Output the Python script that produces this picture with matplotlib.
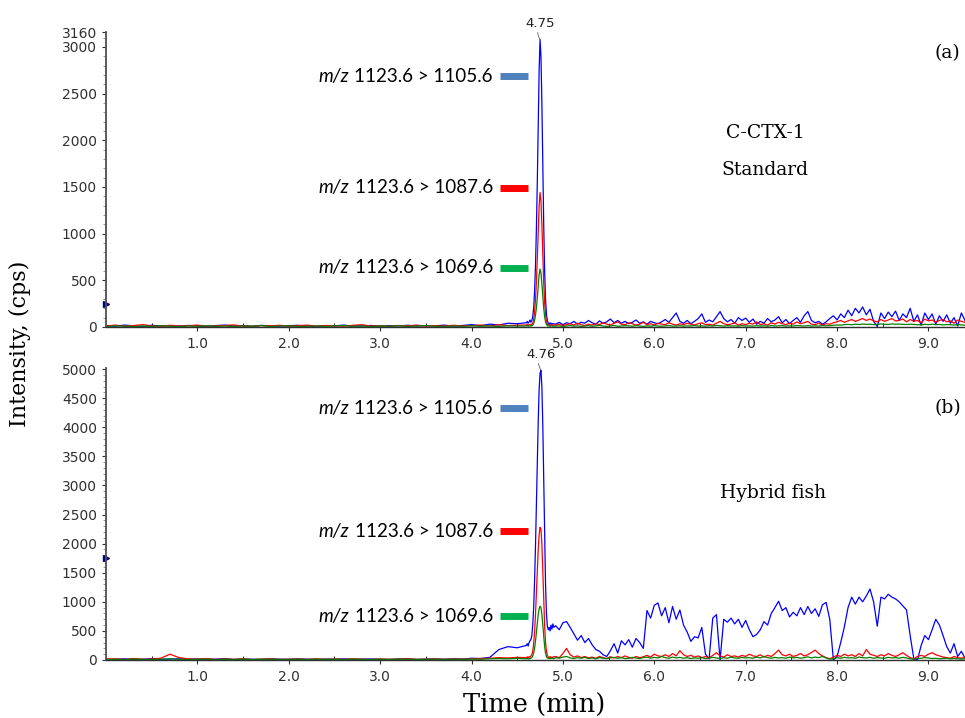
import numpy as np
import matplotlib
matplotlib.use("Agg")
import matplotlib.pyplot as plt
from matplotlib.ticker import MultipleLocator, FixedLocator

# --- sampling grid (min) ---
t_seg1 = np.round(np.arange(0.0, 4.55, 0.1), 2)     # 0.0 .. 4.5
t_seg2 = np.round(np.arange(4.60, 4.905, 0.01), 2)  # 4.60 .. 4.90
t_seg3 = np.round(np.arange(4.92, 9.405, 0.04), 2)  # 4.92 .. 9.40

# --- panel (a): C-CTX-1 standard ---
a_blue_1 = [15, 8, 20, 12, 6, 18, 10, 14, 9, 16,
            11, 7, 15, 20, 10, 13, 8, 17, 12, 9,
            14, 18, 10, 6, 15, 12, 20, 9, 13, 16,
            8, 14, 11, 18, 10, 15, 12, 20, 9, 16,
            25, 14, 30, 22, 40, 35]
a_red_1 = [10, 20, 8, 15, 25, 12, 6, 18, 10, 14,
           20, 8, 12, 16, 22, 10, 6, 15, 12, 18,
           8, 14, 20, 10, 16, 12, 8, 18, 24, 10,
           14, 6, 16, 12, 20, 8, 15, 10, 18, 12,
           14, 20, 10, 25, 15, 20]
a_green_1 = [5, 12, 8, 4, 10, 6, 14, 8, 5, 10,
             7, 12, 6, 9, 5, 11, 8, 14, 6, 10,
             12, 5, 8, 10, 6, 12, 15, 7, 9, 5,
             10, 8, 12, 6, 10, 14, 8, 5, 10, 7,
             12, 8, 10, 6, 12, 10]

a_blue_2 = [45, 60, 40, 55, 75, 50, 70, 110, 200, 380,
            650, 1050, 1550, 2150, 2750, 3080, 2900, 2400, 1750, 1100,
            600, 300, 140, 70, 40, 30, 45, 25, 40, 30, 35]
a_red_2 = [20, 30, 15, 25, 20, 30, 25, 40, 80, 160,
           290, 480, 730, 1020, 1300, 1440, 1350, 1100, 780, 480,
           260, 130, 60, 30, 20, 25, 15, 20, 30, 15, 20]
a_green_2 = [10, 15, 8, 12, 10, 15, 12, 20, 35, 70,
             125, 205, 310, 430, 560, 620, 580, 470, 330, 200,
             110, 55, 28, 15, 10, 12, 8, 10, 12, 8, 10]

a_blue_3 = [30, 50, 25, 45, 35, 60, 30, 50, 40, 70,
            45, 30, 65, 40, 55, 85, 45, 70, 40, 60,
            35, 50, 75, 40, 55, 30, 60, 45, 35, 55,
            80, 50, 100, 150, 60, 40, 70, 35, 60, 90,
            140, 50, 75, 55, 110, 165, 90, 55, 80, 40,
            100, 70, 95, 50, 85, 30, 60, 40, 90, 55,
            75, 110, 45, 80, 35, 70, 100, 50, 120, 165,
            70, 45, 60, 30, 55, 90, 120, 75, 140, 100,
            180, 120, 200, 150, 215, 130, 190, 60, 5, 150,
            90, 160, 110, 170, 70, 140, 100, 200, 60, 130,
            20, 150, 80, 140, 30, 120, 60, 130, 40, 100,
            10, 150, 70]
a_red_3 = [20, 30, 15, 25, 35, 20, 40, 25, 15, 30,
           20, 35, 25, 45, 30, 20, 40, 55, 30, 25,
           45, 35, 20, 30, 50, 25, 35, 20, 40, 30,
           25, 45, 30, 20, 35, 25, 40, 30, 20, 35,
           45, 25, 30, 20, 40, 60, 35, 25, 30, 45,
           20, 35, 25, 40, 30, 55, 25, 35, 20, 45,
           30, 50, 35, 25, 40, 30, 55, 35, 45, 60,
           30, 25, 40, 20, 35, 30, 45, 55, 70, 50,
           65, 80, 60, 75, 90, 70, 85, 65, 55, 80,
           60, 75, 90, 65, 70, 85, 55, 80, 60, 70,
           45, 85, 65, 75, 50, 70, 80, 55, 65, 40,
           75, 60, 50]
a_green_3 = [8, 12, 5, 10, 15, 8, 12, 6, 10, 14,
             8, 12, 18, 10, 6, 12, 15, 8, 10, 14,
             12, 8, 15, 10, 6, 12, 9, 14, 10, 8,
             12, 15, 9, 10, 14, 8, 12, 10, 15, 9,
             12, 8, 14, 10, 16, 12, 9, 14, 10, 12,
             8, 15, 10, 12, 9, 14, 10, 12, 8, 15,
             10, 12, 14, 9, 12, 10, 15, 12, 10, 14,
             9, 12, 10, 15, 12, 14, 18, 22, 20, 25,
             28, 24, 30, 26, 32, 28, 30, 25, 28, 32,
             30, 27, 33, 29, 31, 28, 26, 30, 27, 25,
             22, 28, 25, 30, 24, 27, 22, 26, 24, 20,
             25, 22, 20]

# --- panel (b): hybrid fish ---
b_blue_1 = [15, 10, 20, 8, 12, 25, 10, 15, 20, 12,
            18, 10, 14, 22, 8, 15, 12, 10, 18, 14,
            10, 20, 12, 8, 16, 12, 20, 10, 14, 18,
            12, 8, 15, 20, 10, 14, 18, 12, 20, 15,
            30, 25, 45, 180, 230, 210]
b_red_1 = [15, 20, 10, 25, 12, 18, 30, 100, 40, 20,
           15, 25, 10, 18, 12, 20, 8, 15, 22, 10,
           14, 18, 12, 20, 10, 16, 12, 20, 15, 10,
           18, 12, 16, 22, 10, 14, 20, 12, 18, 15,
           20, 25, 30, 40, 35, 45]
b_green_1 = [8, 12, 6, 15, 10, 8, 14, 20, 12, 8,
             10, 14, 6, 12, 9, 15, 8, 11, 14, 7,
             10, 12, 8, 15, 9, 12, 7, 14, 10, 8,
             12, 9, 15, 10, 8, 12, 14, 9, 12, 10,
             15, 12, 20, 25, 20, 30]

b_blue_2 = [250, 280, 240, 300, 330, 350, 420, 600, 900, 1350,
            1950, 2650, 3400, 4100, 4650, 4930, 4980, 4700, 4050, 3100,
            2100, 1300, 800, 580, 520, 560, 500, 600, 530, 620, 560]
b_red_2 = [40, 55, 30, 60, 45, 70, 90, 150, 280, 480,
           780, 1150, 1550, 1900, 2150, 2280, 2250, 2000, 1550, 1050,
           600, 300, 150, 80, 50, 40, 60, 35, 50, 40, 55]
b_green_2 = [20, 30, 15, 25, 20, 35, 40, 70, 120, 200,
             320, 470, 630, 780, 880, 925, 900, 790, 600, 400,
             230, 120, 60, 35, 25, 30, 20, 35, 25, 30, 20]

b_blue_3 = [590, 520, 640, 660, 560, 450, 340, 420, 300, 370,
            260, 180, 150, 90, 60, 160, 280, 120, 330, 260,
            350, 220, 370, 300, 200, 850, 720, 940, 980, 760,
            900, 640, 920, 700, 860, 600, 480, 320, 400, 380,
            560, 100, 20, 720, 780, 0, 700, 650, 720, 620,
            700, 560, 680, 520, 400, 440, 520, 660, 600, 800,
            900, 1010, 850, 900, 740, 820, 760, 900, 780, 920,
            800, 880, 750, 950, 990, 700, 0, 60, 300, 570,
            900, 1080, 960, 1080, 1000, 1100, 1220, 1000, 580, 1080,
            1050, 1130, 1080, 1050, 1000, 930, 860, 420, 20, 0,
            250, 420, 350, 520, 700, 600, 420, 230, 120, 280,
            60, 150, 30]
b_red_3 = [60, 40, 110, 200, 90, 50, 70, 40, 60, 35,
           50, 30, 60, 40, 25, 55, 35, 60, 40, 70,
           45, 30, 60, 40, 55, 80, 50, 100, 70, 60,
           90, 60, 110, 70, 160, 90, 60, 80, 50, 70,
           40, 60, 35, 80, 125, 70, 50, 90, 60, 70,
           50, 80, 60, 100, 70, 60, 90, 50, 80, 60,
           110, 170, 90, 70, 100, 60, 80, 110, 70, 90,
           130, 170, 110, 70, 40, 20, 50, 80, 60, 100,
           70, 90, 60, 110, 70, 180, 100, 80, 60, 90,
           70, 110, 80, 60, 90, 125, 80, 40, 20, 60,
           80, 60, 100, 125, 90, 70, 50, 40, 30, 60,
           40, 30, 50]
b_green_3 = [40, 30, 50, 60, 35, 25, 40, 30, 45, 25,
             35, 20, 40, 30, 25, 35, 45, 30, 40, 25,
             30, 45, 35, 25, 40, 50, 30, 45, 35, 60,
             40, 30, 50, 35, 45, 30, 40, 25, 35, 30,
             40, 25, 30, 45, 35, 25, 40, 30, 50, 35,
             30, 45, 35, 40, 30, 50, 35, 60, 40, 30,
             45, 35, 40, 30, 50, 35, 45, 30, 40, 55,
             35, 50, 40, 60, 35, 15, 20, 40, 30, 45,
             35, 40, 30, 50, 40, 35, 45, 30, 40, 35,
             30, 45, 35, 40, 30, 45, 35, 20, 15, 25,
             30, 40, 35, 25, 30, 20, 25, 30, 20, 25,
             20, 15, 20]

transitions = ["1123.6 > 1105.6", "1123.6 > 1087.6", "1123.6 > 1069.6"]
x_ticks = [1, 2, 3, 4, 5, 6, 7, 8, 9]
x_tick_labels = ["1.0", "2.0", "3.0", "4.0", "5.0", "6.0", "7.0", "8.0", "9.0"]

time = np.concatenate([t_seg1, t_seg2, t_seg3])


def serie(s1, s2, s3):
    return np.concatenate([s1, s2, s3]).astype(float)


paneles = [
    {
        "pos": [0.1098, 0.5446, 0.8902, 0.4108],
        "ymax": 3160,
        "yticks": [0, 500, 1000, 1500, 2000, 2500, 3000, 3160],
        "blue": serie(a_blue_1, a_blue_2, a_blue_3),
        "red": serie(a_red_1, a_red_2, a_red_3),
        "green": serie(a_green_1, a_green_2, a_green_3),
        "apex": 4.75,
        "bars_y": [2688, 1489, 632],
        "marker_y": 250,
        "tag": "(a)", "tag_y": 0.926,
        "names": [("C-CTX-1", 0.793, 0.815), ("Standard", 0.793, 0.763)],
    },
    {
        "pos": [0.1098, 0.0808, 0.8902, 0.4067],
        "ymax": 5020,
        "yticks": [0, 500, 1000, 1500, 2000, 2500, 3000, 3500, 4000, 4500, 5000],
        "blue": serie(b_blue_1, b_blue_2, b_blue_3),
        "red": serie(b_red_1, b_red_2, b_red_3),
        "green": serie(b_green_1, b_green_2, b_green_3),
        "apex": 4.76,
        "bars_y": [4330, 2216, 756],
        "marker_y": 1750,
        "tag": "(b)", "tag_y": 0.432,
        "names": [("Hybrid fish", 0.801, 0.313)],
    },
]

bar_colors = ["#4F81BD", "#FF0000", "#00B050"]
serif = "DejaVu Serif"

fig = plt.figure(figsize=(9.65, 7.18), dpi=100)

for p in paneles:
    ax = fig.add_axes(p["pos"])
    ax.plot(time, p["blue"], color="#0000FF", lw=0.9)
    ax.plot(time, p["red"], color="#FF0000", lw=0.9)
    ax.plot(time, p["green"], color="#008000", lw=0.9)

    ax.set_xlim(0, 9.4)
    ax.set_ylim(0, p["ymax"])
    for s in ["top", "right"]:
        ax.spines[s].set_visible(False)
    ax.spines["left"].set_color("#505050")
    ax.spines["left"].set_linewidth(1.3)
    ax.spines["bottom"].set_color("#303030")
    ax.spines["bottom"].set_linewidth(1.0)

    ax.yaxis.set_major_locator(FixedLocator(p["yticks"]))
    ax.yaxis.set_minor_locator(MultipleLocator(100))
    ax.set_xticks(x_ticks)
    ax.set_xticklabels(x_tick_labels)
    ax.xaxis.set_minor_locator(FixedLocator([0.5 + i for i in range(10)]))
    ax.tick_params(axis="both", which="major", labelsize=10, colors="#303030",
                   length=3, width=0.8)
    ax.tick_params(axis="y", which="minor", length=2, width=0.6, color="#808080")
    ax.tick_params(axis="x", which="minor", length=3, width=0.6, direction="in")
    ax.tick_params(axis="x", which="major", pad=4)

    # marcador del nivel de ruido en el eje
    ax.plot([0], [p["marker_y"]], marker=">", color="#000080", ms=4, clip_on=False)

    # etiqueta del tiempo de retencion
    apex_i = int(np.argmax(p["blue"]))
    ax.annotate(f"{p['apex']:.2f}", xy=(time[apex_i], p["blue"][apex_i]),
                xytext=(0, 7), textcoords="offset points", ha="center", va="bottom",
                fontsize=9.5, color="#202020", annotation_clip=False,
                arrowprops=dict(arrowstyle="-", color="#606060", lw=0.6,
                                connectionstyle="arc3,rad=0.3", shrinkA=0, shrinkB=0))

    # leyenda de transiciones
    for label, y, c in zip(transitions, p["bars_y"], bar_colors):
        ax.plot([4.31, 4.62], [y, y], color=c, lw=5, solid_capstyle="butt")
        t = ax.text(4.235, y, label, ha="right", va="center", fontsize=13.5,
                    family="Lato", color="black")
        ax.annotate("m/z", xy=(0, 0), xycoords=t, xytext=(-4, 0),
                    textcoords="offset points", ha="right", va="bottom",
                    fontsize=13.5, family="Lato", style="italic", color="black")

    fig.text(0.982, p["tag_y"], p["tag"], ha="center", va="center",
             fontsize=13.5, family=serif)
    for name, x, y in p["names"]:
        fig.text(x, y, name, ha="center", va="center", fontsize=13.5, family=serif)

fig.text(0.021, 0.521, "Intensity, (cps)", rotation=90, ha="center", va="center",
         fontsize=16, family=serif)
fig.text(0.554, 0.018, "Time (min)", ha="center", va="center",
         fontsize=18.5, family=serif)

fig.savefig("out.png", dpi=100)
plt.close(fig)
